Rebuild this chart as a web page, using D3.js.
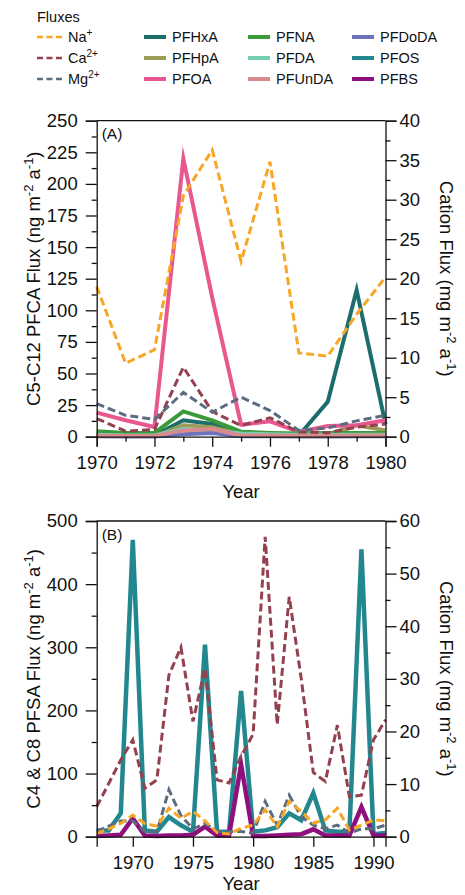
<!DOCTYPE html>
<html>
<head>
<meta charset="utf-8">
<script src="https://cdn.jsdelivr.net/npm/d3@7"></script>
<style>
  html, body { margin: 0; padding: 0; background: #fff; }
  svg { display: block; font-family: "Liberation Sans", Arial, sans-serif; }
</style>
</head>
<body>
<svg id="chart" width="465" height="895"></svg>
<script>
// ---------------- DATA ----------------
// Panel A (1970-1980)
const yearsA = [1970, 1971, 1972, 1973, 1974, 1975, 1976, 1977, 1978, 1979, 1980];
const naA  = [19, 9.3, 11, 30.5, 36.3, 22.2, 34.8, 10.6, 10.2, 15.5, 20.2];   // mg m-2 a-1
const caA  = [2.3, 0.7, 0.9, 8.8, 3.2, 1.4, 2.4, 0.6, 0.5, 1.2, 1.6];
const mgA  = [4.2, 2.7, 2.2, 5.6, 3.1, 5.0, 3.3, 0.8, 1.1, 2.0, 2.7];
const pfhxaA  = [2, 1, 1, 13, 10, 2, 1.5, 1, 27.7, 116, 10];                 // ng m-2 a-1
const pfhpaA  = [1, 0.5, 0.5, 9, 7.5, 2, 1, 1, 2, 9, 5];
const pfoaA   = [19, 13, 7.7, 220, 110, 9.5, 12.2, 3.7, 8.5, 9, 13];
const pfnaA   = [4.3, 3, 3, 20, 13, 4, 3, 2.5, 3, 3, 3];
const pfdaA   = [1.5, 1, 1, 6, 5, 2.5, 2, 1.5, 1.5, 1.5, 1.5];
const pfundaA = [0.8, 0.5, 0.5, 5, 6, 1, 1, 0.8, 0.8, 1, 1];
const pfdodaA = [0.3, 0.2, 0.2, 2, 3, 0.3, 0.3, 0.2, 0.2, 0.3, 0.3];

// Panel B (1967-1991)
const yearsB = [1967, 1968, 1969, 1970, 1971, 1972, 1973, 1974, 1975, 1976, 1977, 1978, 1979,
                1980, 1981, 1982, 1983, 1984, 1985, 1986, 1987, 1988, 1989, 1990, 1991];
const pfosB = [10, 10, 37, 470, 10, 8, 31, 18, 8, 304, 8, 8, 231, 8, 10, 15, 37, 26, 69, 10, 8, 8, 455, 4, 6];
const pfbsB = [1, 2, 3, 29, 2, 1, 2, 2, 3, 16, 2, 2, 114, 1, 1, 2, 3, 4, 11.7, 2, 2, 2, 47, 2, 2];
const caB = [5.7, 10.1, 14.6, 18.4, 9.2, 10.8, 30.7, 36, 21.9, 32, 10.8, 10.2, 15.3, 19.5, 57, 21.3, 45.6, 30, 12.2, 10.5, 21.2, 7.6, 7.9, 18.4, 22.2];
const mgB = [1, 2, 3, 3, 1, 0.9, 8.9, 4, 1.5, 2.5, 1, 1, 1, 0.7, 6.7, 2.2, 7.9, 3.8, 2.2, 1.5, 2.2, 0.7, 1.5, 1.5, 2.2];
const naB = [0.6, 1.5, 2.5, 4.1, 2.5, 2, 5.4, 3.5, 4.8, 3, 0.8, 0.5, 1.6, 2.2, 5.1, 1.9, 6.7, 4.8, 2.6, 3.2, 5.4, 1.3, 2.2, 3.2, 3];

// Tick values
const xTicksA = [1970, 1972, 1974, 1976, 1978, 1980];
const xTicksB = [1970, 1975, 1980, 1985, 1990];
const yTicksA = [0, 25, 50, 75, 100, 125, 150, 175, 200, 225, 250];
const yRTicksA = [0, 5, 10, 15, 20, 25, 30, 35, 40];
const yTicksB = [0, 100, 200, 300, 400, 500];
const yRTicksB = [0, 10, 20, 30, 40, 50, 60];

// ---------------- STYLE ----------------
const COL = {
  Na: "#f7a625", Ca: "#93404f", Mg: "#5b6b80",
  PFHxA: "#1b6e6c", PFHpA: "#9c9c57", PFOA: "#e9578f", PFNA: "#3d9a3b",
  PFDA: "#74cfae", PFUnDA: "#d98a8e", PFDoDA: "#6d73ba", PFOS: "#22878f", PFBS: "#8e0f7d"
};
const DASH = "8,4";

const svg = d3.select("#chart");
const L = 96.7, R = 385.5;
const font = "Liberation Sans, Arial, sans-serif";

function supText(t, parts, big, small) {
  parts.forEach(p => {
    if (p[1]) {
      t.append("tspan").attr("font-size", small).attr("dy", -big * 0.38).text(p[0]);
    } else {
      const ts = t.append("tspan").attr("font-size", big).text(p[0]);
      if (t.node().__sup) ts.attr("dy", big * 0.38);
    }
    t.node().__sup = p[1];
  });
}

// ---------------- LEGEND ----------------
const lg = svg.append("g").attr("font-size", 14.5).attr("fill", "#111");
lg.append("text").attr("x", 37).attr("y", 21.5).text("Fluxes");
const rowsY = [37, 58, 79];
const cations = [["Na", [["Na",0],["+",1]]], ["Ca", [["Ca",0],["2+",1]]], ["Mg", [["Mg",0],["2+",1]]]];
cations.forEach((c, i) => {
  lg.append("line").attr("x1", 37).attr("x2", 65).attr("y1", rowsY[i]).attr("y2", rowsY[i])
    .attr("stroke", COL[c[0]]).attr("stroke-width", 2.6).attr("stroke-dasharray", "6,3.5");
  const t = lg.append("text").attr("x", 68).attr("y", rowsY[i] + 5);
  supText(t, c[1], 14.5, 10);
});
const legCols = [
  [144, ["PFHxA", "PFHpA", "PFOA"]],
  [248, ["PFNA", "PFDA", "PFUnDA"]],
  [352, ["PFDoDA", "PFOS", "PFBS"]]
];
legCols.forEach(col => {
  col[1].forEach((name, i) => {
    lg.append("line").attr("x1", col[0]).attr("x2", col[0] + 22).attr("y1", rowsY[i]).attr("y2", rowsY[i])
      .attr("stroke", COL[name]).attr("stroke-width", 4);
    lg.append("text").attr("x", col[0] + 28).attr("y", rowsY[i] + 5).text(name);
  });
});

// ---------------- PANEL BUILDER ----------------
function panel(opts) {
  const g = svg.append("g");
  const x = d3.scaleLinear().domain(opts.xDomain).range([L, R]);
  const y = d3.scaleLinear().domain(opts.yDomain).range([opts.bottom, opts.top]);
  const yR = d3.scaleLinear().domain(opts.yRDomain).range([opts.bottom, opts.top]);

  // lines
  const lineL = d3.line().x((d, i) => x(opts.years[i])).y(d => y(d));
  const lineR = d3.line().x((d, i) => x(opts.years[i])).y(d => yR(d));
  opts.solid.forEach(s => {
    g.append("path").datum(s.values).attr("d", lineL).attr("fill", "none")
      .attr("stroke", COL[s.name]).attr("stroke-width", s.w || 4)
      .attr("stroke-linejoin", "miter").attr("stroke-miterlimit", 10);
  });
  opts.dashed.forEach(s => {
    g.append("path").datum(s.values).attr("d", lineR).attr("fill", "none")
      .attr("stroke", COL[s.name]).attr("stroke-width", 3)
      .attr("stroke-dasharray", DASH);
  });

  const fs = 18.5;
  // left axis
  const gl = g.append("g").attr("transform", `translate(${L},0)`);
  gl.call(d3.axisLeft(y).tickValues(opts.yMinor).tickSize(5).tickFormat(""));
  const glM = g.append("g").attr("transform", `translate(${L},0)`);
  glM.call(d3.axisLeft(y).tickValues(opts.yTicks).tickSize(11).tickPadding(8).tickFormat(d3.format("d")));
  // right axis
  const gr = g.append("g").attr("transform", `translate(${R},0)`);
  gr.call(d3.axisRight(yR).tickValues(opts.yRMinor).tickSize(5).tickFormat(""));
  const grM = g.append("g").attr("transform", `translate(${R},0)`);
  grM.call(d3.axisRight(yR).tickValues(opts.yRTicks).tickSize(11).tickPadding(3).tickFormat(d3.format("d")));
  // bottom axis
  const gb = g.append("g").attr("transform", `translate(0,${opts.bottom})`);
  if (opts.xMinor.length) gb.call(d3.axisBottom(x).tickValues(opts.xMinor).tickSize(5).tickFormat(""));
  const gbM = g.append("g").attr("transform", `translate(0,${opts.bottom})`);
  gbM.call(d3.axisBottom(x).tickValues(opts.xTicks).tickSize(10).tickPadding(9).tickFormat(d3.format("d")));
  // top border
  g.append("line").attr("x1", L).attr("x2", R).attr("y1", opts.top).attr("y2", opts.top)
    .attr("stroke", "#111").attr("stroke-width", 1.3);

  [gl, glM, gr, grM, gb, gbM].forEach(a => {
    a.selectAll(".domain").attr("stroke", "#111").attr("stroke-width", 1.3);
    a.selectAll(".tick line").attr("stroke", "#111").attr("stroke-width", 1.3);
    a.selectAll(".tick text").attr("font-size", fs).attr("font-family", font).attr("fill", "#111");
  });
  gl.select(".domain").remove(); gr.select(".domain").remove(); gb.select(".domain").remove();

  // panel label
  g.append("text").attr("x", L + 5).attr("y", opts.top + 18.5).attr("font-size", 15.5)
    .attr("fill", "#111").text(opts.label);

  // x title
  g.append("text").attr("x", (L + R) / 2).attr("y", opts.bottom + opts.yearDy)
    .attr("text-anchor", "middle").attr("font-size", fs).attr("fill", "#111").text("Year");

  const mid = (opts.top + opts.bottom) / 2;
  const tl = g.append("text").attr("transform", `translate(40,${mid}) rotate(-90)`)
    .attr("text-anchor", "middle").attr("fill", "#111");
  supText(tl, opts.leftTitle, fs, 13);
  const tr = g.append("text").attr("transform", `translate(440,${mid}) rotate(90)`)
    .attr("text-anchor", "middle").attr("fill", "#111");
  supText(tr, [["Cation Flux (mg m",0],["-2",1],[" a",0],["-1",1],[")",0]], fs, 13);
}

panel({
  top: 120.7, bottom: 436.7, xDomain: [1970, 1980], yDomain: [0, 250], yRDomain: [0, 40],
  years: yearsA,
  xTicks: xTicksA, xMinor: [1971, 1973, 1975, 1977, 1979],
  yTicks: yTicksA, yMinor: d3.range(12.5, 250, 25),
  yRTicks: yRTicksA, yRMinor: d3.range(2.5, 40, 5),
  solid: [
    { name: "PFHxA", values: pfhxaA }, { name: "PFHpA", values: pfhpaA },
    { name: "PFOA", values: pfoaA }, { name: "PFNA", values: pfnaA },
    { name: "PFDA", values: pfdaA }, { name: "PFDoDA", values: pfdodaA },
    { name: "PFUnDA", values: pfundaA }
  ],
  dashed: [{ name: "Ca", values: caA }, { name: "Mg", values: mgA }, { name: "Na", values: naA }],
  label: "(A)", yearDy: 61,
  leftTitle: [["C5-C12 PFCA Flux (ng m",0],["-2",1],[" a",0],["-1",1],[")",0]]
});

panel({
  top: 521, bottom: 836.7, xDomain: [1967, 1991], yDomain: [0, 500], yRDomain: [0, 60],
  years: yearsB,
  xTicks: xTicksB, xMinor: [],
  yTicks: yTicksB, yMinor: d3.range(50, 500, 100),
  yRTicks: yRTicksB, yRMinor: d3.range(5, 60, 10),
  solid: [{ name: "PFOS", values: pfosB, w: 4.5 }, { name: "PFBS", values: pfbsB, w: 4.5 }],
  dashed: [{ name: "Ca", values: caB }, { name: "Mg", values: mgB }, { name: "Na", values: naB }],
  label: "(B)", yearDy: 53,
  leftTitle: [["C4 & C8 PFSA Flux (ng m",0],["-2",1],[" a",0],["-1",1],[")",0]]
});
</script>
</body>
</html>
